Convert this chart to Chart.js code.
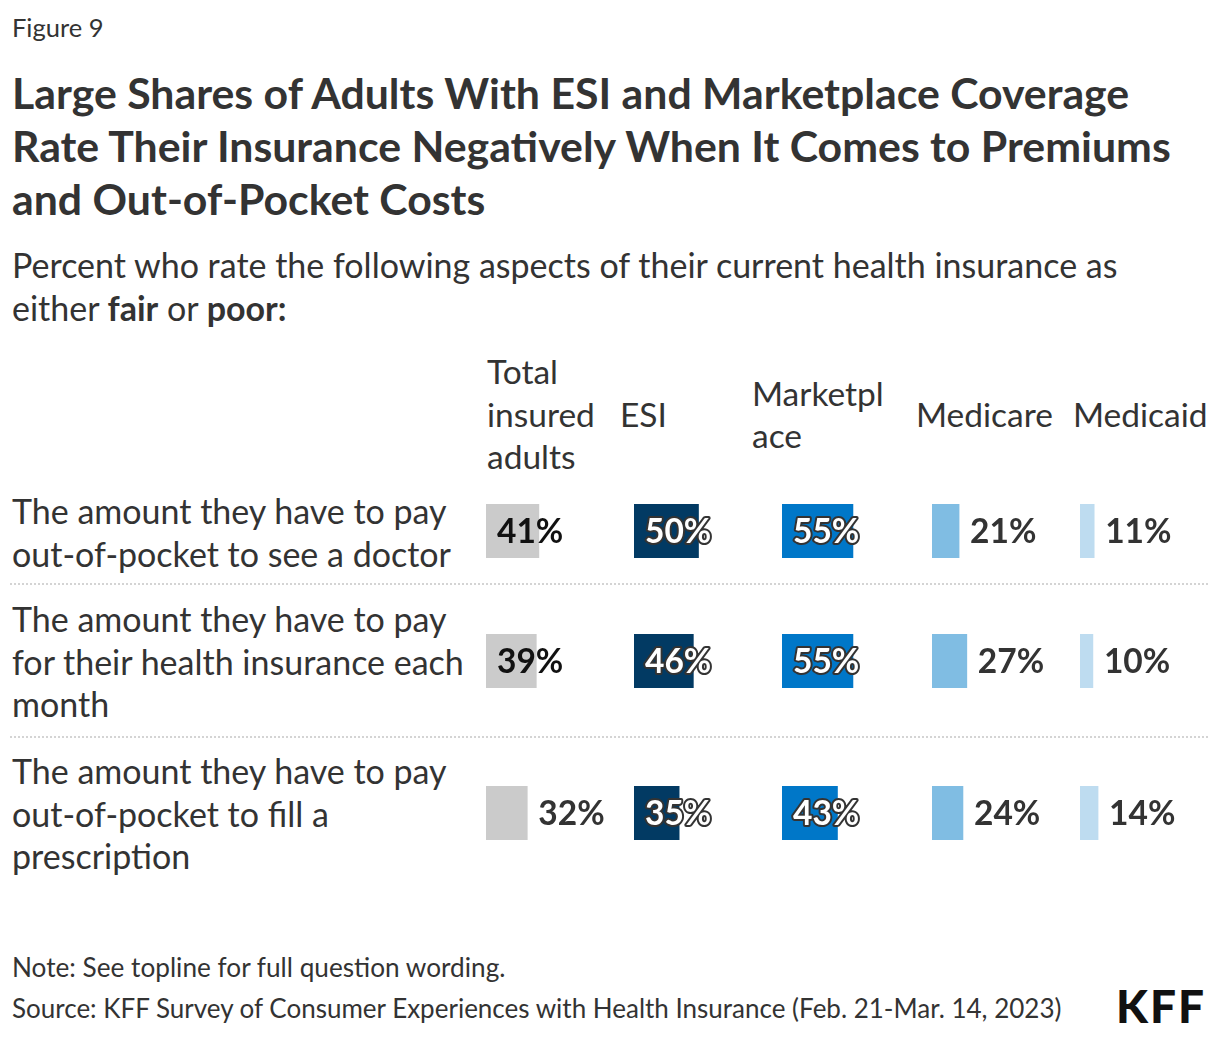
<!DOCTYPE html>
<html>
<head>
<meta charset="utf-8">
<script src="https://cdn.jsdelivr.net/npm/chart.js@4"></script>
<style>
  html, body { margin:0; padding:0; background:#fff; }
  body { width:1220px; height:1038px; position:relative; overflow:hidden; font-family: Lato, "Noto Sans", sans-serif; color:#333; }
  .abs { position:absolute; white-space:nowrap; }
  #fig { left:12px; top:12px; font-size:25.5px; line-height:30px; color:#333; }
  #title { left:12px; top:66px; font-size:42.8px; line-height:53px; font-weight:700; color:#333; }
  #sub { left:12px; top:243px; font-size:34px; line-height:43px; color:#333; }
  #sub b { font-weight:700; }
  .hdr { font-size:33.5px; line-height:42.5px; color:#333; }
  .rowlab { left:12px; font-size:34px; line-height:42.5px; color:#333; }
  .sep { left:10px; width:1198px; height:0; border-top:2px dotted #d4d4d4; }
  .cell { position:absolute; width:150px; height:54px; }
  #note { left:12px; top:952px; font-size:26.2px; line-height:30px; }
  #src { left:12px; top:993px; font-size:26px; line-height:30px; }
  #logo { left:1116px; top:983px; font-size:46px; line-height:46px; font-weight:900; color:#111; letter-spacing:2px; }
</style>
</head>
<body>
<div id="fig" class="abs">Figure 9</div>
<div id="title" class="abs">Large Shares of Adults With ESI and Marketplace Coverage<br>Rate Their Insurance Negatively When It Comes to Premiums<br>and Out-of-Pocket Costs</div>
<div id="sub" class="abs">Percent who rate the following aspects of their current health insurance as<br>either <b>fair</b> or <b>poor:</b></div>
<div id="note" class="abs">Note: See topline for full question wording.</div>
<div id="src" class="abs">Source: KFF Survey of Consumer Experiences with Health Insurance (Feb. 21-Mar. 14, 2023)</div>
<div id="logo" class="abs">KFF</div>
<script>
// ---- data ----
const rowLabels = [
  ["The amount they have to pay", "out-of-pocket to see a doctor"],
  ["The amount they have to pay", "for their health insurance each", "month"],
  ["The amount they have to pay", "out-of-pocket to fill a", "prescription"]
];
const columnLabels = [
  ["Total", "insured", "adults"],
  ["ESI"],
  ["Marketpl", "ace"],
  ["Medicare"],
  ["Medicaid"]
];
const totalInsured = [41, 39, 32];
const esi = [50, 46, 35];
const marketplace = [55, 55, 43];
const medicare = [21, 27, 24];
const medicaid = [11, 10, 14];

// ---- styles / layout ----
const seriesValues = [totalInsured, esi, marketplace, medicare, medicaid];
const colors = ["#cbcbcb", "#023a63", "#0077c8", "#80bde3", "#bedcf0"];
const darkBar = [false, true, true, false, false];
const colLeft = [486, 634, 782, 932, 1080];
const hdrLeft = [487, 620, 752, 916, 1073];
const hdrCenter = 414;
const rowTop = [504, 634, 786];
const rowLabTop = [490, 598, 750];
const sepY = [584, 737];

const body = document.body;
columnLabels.forEach((lines, c) => {
  const d = document.createElement('div');
  d.className = 'abs hdr';
  d.style.left = hdrLeft[c] + 'px';
  d.style.top = (hdrCenter - lines.length * 42.5 / 2) + 'px';
  d.innerHTML = lines.join('<br>');
  body.appendChild(d);
});
rowLabels.forEach((lines, r) => {
  const d = document.createElement('div');
  d.className = 'abs rowlab';
  d.style.top = rowLabTop[r] + 'px';
  d.innerHTML = lines.join('<br>');
  body.appendChild(d);
});
sepY.forEach(y => {
  const d = document.createElement('div');
  d.className = 'abs sep';
  d.style.top = (y - 1) + 'px';
  body.appendChild(d);
});

const valueLabelPlugin = {
  id: 'valueLabel',
  afterDatasetsDraw(chart, args, opts) {
    const ctx = chart.ctx;
    const ds = chart.data.datasets[0];
    const bar = chart.getDatasetMeta(0).data[0];
    const v = ds.data[0];
    const txt = v + '%';
    ctx.save();
    ctx.font = '700 33.5px Lato, "Noto Sans", sans-serif';
    ctx.textBaseline = 'middle';
    ctx.textAlign = 'left';
    const y = bar.y + 1;
    if (v >= 35) {
      const x = bar.base + 11;
      if (opts.dark) {
        ctx.lineJoin = 'round';
        ctx.lineWidth = 4;
        ctx.strokeStyle = '#333';
        ctx.strokeText(txt, x, y);
        ctx.fillStyle = '#fff';
        ctx.fillText(txt, x, y);
      } else {
        ctx.fillStyle = '#111';
        ctx.fillText(txt, x, y);
      }
    } else {
      ctx.fillStyle = '#333';
      ctx.fillText(txt, bar.x + 11, y);
    }
    ctx.restore();
  }
};

seriesValues.forEach((vals, c) => {
  vals.forEach((v, r) => {
    const wrap = document.createElement('div');
    wrap.className = 'cell';
    wrap.style.left = colLeft[c] + 'px';
    wrap.style.top = rowTop[r] + 'px';
    const cv = document.createElement('canvas');
    cv.width = 150; cv.height = 54;
    cv.style.width = '150px'; cv.style.height = '54px';
    wrap.appendChild(cv);
    body.appendChild(wrap);
    new Chart(cv, {
      type: 'bar',
      data: {
        labels: [rowLabels[r].join(' ')],
        datasets: [{
          label: columnLabels[c].join(''),
          data: [v],
          backgroundColor: colors[c],
          borderWidth: 0,
          barPercentage: 1,
          categoryPercentage: 1
        }]
      },
      options: {
        indexAxis: 'y',
        responsive: false,
        animation: false,
        layout: { padding: { left: 0, right: 21, top: 0, bottom: 0 } },
        scales: {
          x: { display: false, min: 0, max: 100 },
          y: { display: false }
        },
        plugins: {
          legend: { display: false },
          tooltip: { enabled: false },
          valueLabel: { dark: darkBar[c] }
        }
      },
      plugins: [valueLabelPlugin]
    });
  });
});
</script>
</body>
</html>
